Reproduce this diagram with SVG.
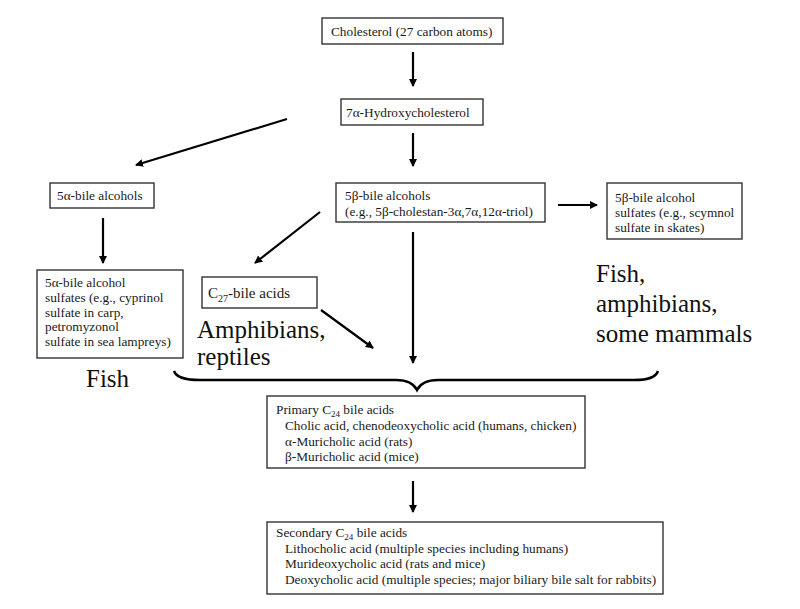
<svg xmlns="http://www.w3.org/2000/svg" width="800" height="609" viewBox="0 0 800 609">
<style>
.box{fill:#fff;stroke:#333;stroke-width:1.4}
.t{font-family:"Liberation Serif","Times New Roman",serif;font-size:13.3px;fill:#1a1a1a}
.tm{font-family:"Liberation Serif","Times New Roman",serif;font-size:15px;fill:#1a1a1a}
.big{font-family:"Liberation Serif","Times New Roman",serif;font-size:25px;fill:#111}
.c{stroke:#000;stroke-width:2.2;fill:none}
.brace{stroke:#000;stroke-width:2.5;fill:none}
.sub{font-size:9px}
</style>
<defs>
<marker id="ah" markerWidth="8" markerHeight="8" refX="7" refY="4" orient="auto" markerUnits="userSpaceOnUse">
<path d="M0,0 L8,4 L0,8 Z" fill="#000"/>
</marker>
</defs>
<rect width="800" height="609" fill="#fff"/>

<g id="connectors">
<line class="c" x1="413" y1="52" x2="413" y2="86" marker-end="url(#ah)"/>
<line class="c" x1="413" y1="133" x2="413" y2="166" marker-end="url(#ah)"/>
<line class="c" x1="287" y1="119" x2="136" y2="165" marker-end="url(#ah)"/>
<line class="c" x1="103" y1="218" x2="103" y2="263" marker-end="url(#ah)"/>
<line class="c" x1="558" y1="205" x2="597" y2="205" marker-end="url(#ah)"/>
<line class="c" x1="320" y1="212" x2="255" y2="263" marker-end="url(#ah)"/>
<line class="c" x1="321" y1="310" x2="373" y2="348" marker-end="url(#ah)"/>
<line class="c" x1="413" y1="232" x2="413" y2="363" marker-end="url(#ah)"/>
<line class="c" x1="413" y1="481" x2="413" y2="512" marker-end="url(#ah)"/>
<path class="brace" d="M174,371 Q177,380 200,380 L396,380 Q412,380 417,390 Q422,380 438,380 L635,380 Q655,380 658,371"/>
</g>

<g id="cholesterol">
<rect class="box" x="322" y="18" width="181" height="26"/>
<text class="t" x="331" y="36">Cholesterol (27 carbon atoms)</text>
</g>

<g id="hydroxycholesterol">
<rect class="box" x="341" y="99" width="142" height="26"/>
<text class="t" x="346" y="117">7α-Hydroxycholesterol</text>
</g>

<g id="alpha-alcohols">
<rect class="box" x="50" y="183" width="104" height="25"/>
<text class="t" x="57" y="200">5α-bile alcohols</text>
</g>

<g id="beta-alcohols">
<rect class="box" x="336" y="183" width="209" height="39"/>
<text class="t" x="345" y="200">5β-bile alcohols</text>
<text class="t" x="345" y="216">(e.g., 5β-cholestan-3α,7α,12α-triol)</text>
</g>

<g id="beta-sulfates">
<rect class="box" x="607" y="183" width="135" height="56"/>
<text class="t" x="615" y="202">5β-bile alcohol</text>
<text class="t" x="615" y="217">sulfates (e.g., scymnol</text>
<text class="t" x="615" y="232">sulfate in skates)</text>
</g>

<g id="alpha-sulfates">
<rect class="box" x="37" y="270" width="146" height="88"/>
<text class="t" x="45" y="287">5α-bile alcohol</text>
<text class="t" x="45" y="302">sulfates (e.g., cyprinol</text>
<text class="t" x="45" y="317">sulfate in carp,</text>
<text class="t" x="45" y="331">petromyzonol</text>
<text class="t" x="45" y="346">sulfate in sea lampreys)</text>
</g>

<g id="c27-acids">
<rect class="box" x="202" y="277" width="115" height="31"/>
<text class="tm" x="208" y="298">C<tspan font-size="10" dy="4">27</tspan><tspan dy="-4">-bile acids</tspan></text>
</g>

<g id="labels">
<text class="big" x="197" y="338">Amphibians,</text>
<text class="big" x="197" y="365">reptiles</text>
<text class="big" x="86" y="387">Fish</text>
<text class="big" x="596" y="282">Fish,</text>
<text class="big" x="596" y="312">amphibians,</text>
<text class="big" x="596" y="342">some mammals</text>
</g>

<g id="primary">
<rect class="box" x="267" y="396" width="318" height="72"/>
<text class="t" x="276" y="414">Primary C<tspan class="sub" dy="3">24</tspan><tspan dy="-3"> bile acids</tspan></text>
<text class="t" x="285" y="430">Cholic acid, chenodeoxycholic acid (humans, chicken)</text>
<text class="t" x="285" y="446">α-Muricholic acid (rats)</text>
<text class="t" x="285" y="461">β-Muricholic acid (mice)</text>
</g>

<g id="secondary">
<rect class="box" x="267" y="522" width="396" height="72"/>
<text class="t" x="276" y="537">Secondary C<tspan class="sub" dy="3">24</tspan><tspan dy="-3"> bile acids</tspan></text>
<text class="t" x="285" y="553">Lithocholic acid (multiple species including humans)</text>
<text class="t" x="285" y="568">Murideoxycholic acid (rats and mice)</text>
<text class="t" x="285" y="584">Deoxycholic acid (multiple species; major biliary bile salt for rabbits)</text>
</g>
</svg>
